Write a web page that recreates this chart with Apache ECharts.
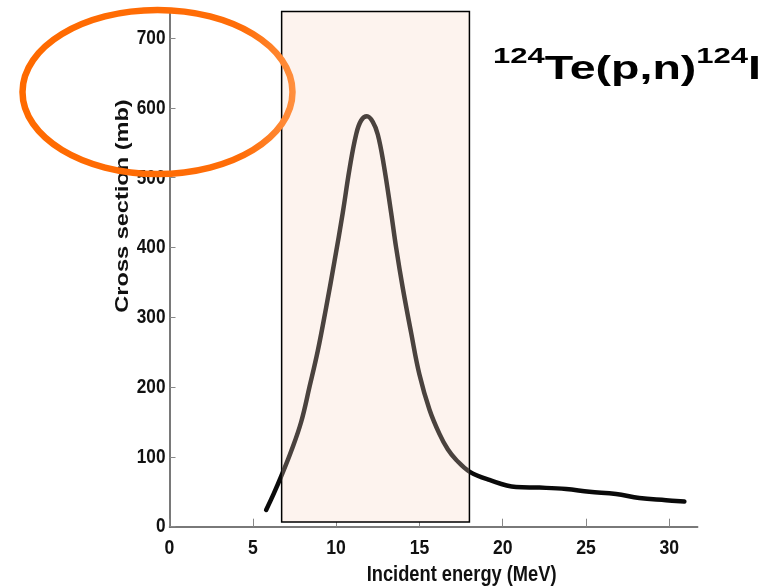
<!DOCTYPE html>
<html>
<head>
<meta charset="utf-8">
<script src="https://cdn.jsdelivr.net/npm/echarts@6/dist/echarts.min.js"></script>
<style>html,body{margin:0;padding:0;background:#fff;}#c{width:773px;height:588px;}</style>
</head>
<body>
<div id="c"></div>
<script>
// Data
const energy = [5.8, 6.25, 6.7, 7.3, 7.9, 8.4, 8.9, 9.4, 9.9, 10.4, 10.8, 11.2, 11.5, 11.85, 12.2, 12.5, 12.85, 13.3, 13.6, 14.0, 14.5, 15.0, 15.6, 16.2, 16.7, 17.2, 18.0, 19.2, 20.8, 22.2, 23.8, 25.2, 26.8, 28.2, 29.8, 30.9];
const crossSection = [24, 47, 72, 108, 150, 200, 252, 314, 380, 450, 512, 562, 582, 588, 580, 562, 520, 450, 400, 342, 278, 218, 168, 133, 111, 96, 79, 67, 57, 56, 54, 50, 47, 41, 38, 36];
const xTicks = [0, 5, 10, 15, 20, 25, 30];
const yTicks = [0, 100, 200, 300, 400, 500, 600, 700];
const boxX = [6.73, 18.0];
const boxY = [6.7, 742];
const titleParts = ['124', 'Te(p,n)', '124', 'I'];
const xName = 'Incident energy (MeV)';
const yName = 'Cross section (mb)';

const chart = echarts.init(document.getElementById('c'), null, {renderer: 'canvas'});
const sans = "'Liberation Sans', Arial, sans-serif";
const axisCol = '#4d4d4d';

chart.setOption({
  animation: false,
  backgroundColor: '#ffffff',
  grid: {left: 169.5, right: 75.3, top: 11.6, bottom: 61.3, containLabel: false},
  xAxis: {
    type: 'value', min: 0, max: 31.7, interval: 5,
    axisLine: {show: true, lineStyle: {color: axisCol, width: 1.5}},
    axisTick: {show: true, inside: true, length: 8, lineStyle: {color: '#888', width: 1}, customValues: xTicks},
    axisLabel: {show: false},
    splitLine: {show: false}
  },
  yAxis: {
    type: 'value', min: 0, max: 738, interval: 100,
    axisLine: {show: true, lineStyle: {color: axisCol, width: 1.5}},
    axisTick: {show: true, inside: true, length: 6, lineStyle: {color: '#888', width: 1}, customValues: yTicks},
    axisLabel: {show: false},
    splitLine: {show: false}
  },
  visualMap: {
    show: false, type: 'piecewise', seriesIndex: 0, dimension: 0,
    pieces: [
      {lt: boxX[0], color: '#0a0a0a'},
      {gte: boxX[0], lte: boxX[1], color: '#4a423e'},
      {gt: boxX[1], color: '#0a0a0a'}
    ]
  },
  series: [{
    type: 'line',
    data: energy.map((e, i) => [e, crossSection[i]]),
    smooth: 0.4,
    showSymbol: false,
    clip: false,
    lineStyle: {width: 4.5, cap: 'round', join: 'round'},
    markArea: {
      silent: true,
      itemStyle: {color: '#fdf3ee', borderColor: '#000', borderWidth: 1.5},
      data: [[{coord: [boxX[0], boxY[0]]}, {coord: [boxX[1], boxY[1]]}]]
    },
    z: 3
  }]
});

// tick labels and names, positioned from the library's own axis scales
const x0 = chart.convertToPixel({xAxisIndex: 0}, 0);
const y0 = chart.convertToPixel({yAxisIndex: 0}, 0);
const xEnd = chart.convertToPixel({xAxisIndex: 0}, 31.7);
const g = [];
xTicks.forEach(v => {
  g.push({type: 'text', x: chart.convertToPixel({xAxisIndex: 0}, v), y: y0 + 22, scaleX: 0.84, z: 10,
    style: {text: String(v), font: 'bold 21px ' + sans, fill: '#111', align: 'center', verticalAlign: 'middle'}});
});
yTicks.forEach(v => {
  g.push({type: 'text', x: x0 - 4, y: chart.convertToPixel({yAxisIndex: 0}, v), scaleX: 0.82, z: 10,
    style: {text: String(v), font: 'bold 21px ' + sans, fill: '#111', align: 'right', verticalAlign: 'middle'}});
});
g.push({type: 'text', x: (x0 + xEnd) / 2 + 28, y: y0 + 48, scaleX: 0.83, z: 10,
  style: {text: xName, font: 'bold 22px ' + sans, fill: '#111', align: 'center', verticalAlign: 'middle'}});
g.push({type: 'text', x: x0 - 46.5, y: 206, rotation: Math.PI / 2, scaleX: 1.24, z: 10,
  style: {text: yName, font: 'bold 19px ' + sans, fill: '#111', align: 'center', verticalAlign: 'middle'}});
g.push({
  type: 'text', x: 493, y: 46, scaleX: 1.41, z: 10,
  style: {
    text: '{s|' + titleParts[0] + '}{b|' + titleParts[1] + '}{s|' + titleParts[2] + '}{b|' + titleParts[3] + '}',
    x: 0, y: 0, verticalAlign: 'top',
    rich: {
      s: {fontSize: 22, fontWeight: 'bold', fontFamily: sans, verticalAlign: 'top', color: '#000'},
      b: {fontSize: 33, fontWeight: 'bold', fontFamily: sans, verticalAlign: 'bottom', color: '#000', padding: [7, 0, 0, 0]}
    }
  }
});
g.push({
  type: 'ellipse', z: 20,
  shape: {cx: 157.5, cy: 92, rx: 135, ry: 82},
  style: {
    fill: 'none', lineWidth: 6.5,
    stroke: new echarts.graphic.LinearGradient(0, 0, 1, 0, [
      {offset: 0, color: '#ff6a00'}, {offset: 0.8, color: '#ff6d08'}, {offset: 1, color: '#ff9040'}
    ])
  }
});
chart.setOption({graphic: g});
</script>
</body>
</html>
